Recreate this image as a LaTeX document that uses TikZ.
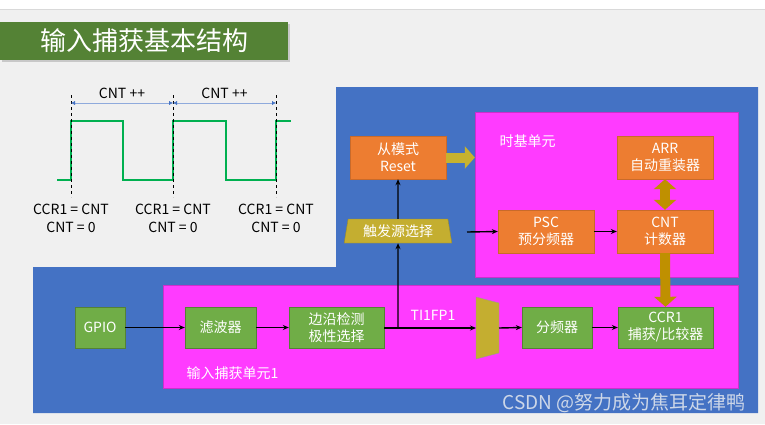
\documentclass[tikz,border=0pt]{standalone}
\usepackage{fontspec}
\setmainfont{Noto Sans CJK SC}
\usetikzlibrary{arrows.meta,shapes.geometric,shadows}

\definecolor{sfondo}{HTML}{F0F0F0}
\definecolor{blu}{HTML}{4472C4}
\definecolor{magenta1}{HTML}{FF3BFF}
\definecolor{arancio}{HTML}{ED7D31}
\definecolor{verde}{HTML}{70AD47}
\definecolor{verdetit}{HTML}{548235}
\definecolor{onda}{HTML}{00B050}
\definecolor{oliva}{HTML}{C4AE30}
\definecolor{oro}{HTML}{BF9000}
\definecolor{azzurro}{HTML}{8FAADC}

\tikzset{
  arbox/.style={draw=arancio!85!black, fill=arancio, text=white, align=center,
    minimum width=96pt, minimum height=43pt, inner sep=0pt, font=\fontsize{14}{17}\selectfont},
  vebox/.style={draw=verde!75!black, fill=verde, text=white, align=center,
    minimum height=41pt, inner sep=0pt, font=\fontsize{14}{17}\selectfont},
  filo/.style={line width=1.4pt, -{Stealth[length=6pt,width=5pt]}},
  grosso/.style={line width=10pt, oro, -{Triangle[length=10pt,width=22pt]}},
  etich/.style={text=white, font=\fontsize{14}{17}\selectfont, anchor=west},
  onde/.style={font=\fontsize{14}{18}\selectfont, align=center}
}

\begin{document}
\begin{tikzpicture}[x=1pt,y=-1pt]
  \useasboundingbox (0,0) rectangle (765,424);
  % Sfondo
  \fill[sfondo] (0,0) rectangle (765,424);
  \fill[white] (0,0) rectangle (765,9);
  \draw[black!15] (0,9) -- (765,9);

  % Titolo
  \node[fill=verdetit, text=white, minimum width=288pt, minimum height=38pt,
    drop shadow={opacity=0.35, shadow xshift=2pt, shadow yshift=-2pt},
    font=\fontsize{26}{30}\selectfont] (titolo) at (144,41) {输入捕获基本结构};

  % Forma d'onda
  \coordinate (t1) at (71,0);
  \coordinate (t2) at (173,0);
  \coordinate (t3) at (276,0);
  \draw[onda, line width=2pt] (57,180) -- (71,180) -- (71,121) -- (123,121) -- (123,180)
    -- (173,180) -- (173,121) -- (226,121) -- (226,180) -- (276,180) -- (276,121) -- (291,121);
  \foreach \t in {t1,t2,t3}
    \draw[dashed, thin] (\t |- 0,95) -- (\t |- 0,197);
  \draw[azzurro, {Latex[length=4pt,width=4pt,blu]}-{Latex[length=4pt,width=4pt,blu]}]
    (t1 |- 0,103) -- (t2 |- 0,103) node[midway, above=1pt, black, font=\fontsize{14}{17}\selectfont] (cnt1) {CNT ++};
  \draw[azzurro, {Latex[length=4pt,width=4pt,blu]}-{Latex[length=4pt,width=4pt,blu]}]
    (t2 |- 0,103) -- (t3 |- 0,103) node[midway, above=1pt, black, font=\fontsize{14}{17}\selectfont] (cnt2) {CNT ++};
  \node[onde] (cap1) at (71,218) {CCR1 = CNT\\CNT = 0};
  \node[onde] (cap2) at (173,218) {CCR1 = CNT\\CNT = 0};
  \node[onde] (cap3) at (276,218) {CCR1 = CNT\\CNT = 0};

  % Zona blu
  \fill[blu] (336,87) -- (758,87) -- (758,413) -- (33,413) -- (33,267) -- (336,267) -- cycle;

  % Unita
  \node[fill=magenta1, draw=magenta1!80!black, minimum width=263pt, minimum height=165pt,
    inner sep=0pt] (base) at (606.5,194.5) {};
  \node[fill=magenta1, draw=magenta1!80!black, minimum width=575pt, minimum height=103pt,
    inner sep=0pt] (cattura) at (450.5,336.5) {};
  \node[etich] (lbase) at (496,141) {时基单元};
  \node[etich] (lcatt) at (183,373) {输入捕获单元1};

  % Blocchi arancio
  \node[arbox] (slave) at (398,157.5) {从模式\\Reset};
  \node[arbox] (arr) at (665,157.5) {ARR\\自动重装器};
  \node[arbox] (psc) at (546,231.5) {PSC\\预分频器};
  \node[arbox] (cnt) at (665,231.5) {CNT\\计数器};
  \node[trapezium, trapezium stretches=true, trapezium left angle=78, trapezium right angle=78,
    minimum width=108pt, minimum height=24pt, inner sep=0pt, fill=oliva, draw=oliva!80!black,
    text=white, font=\fontsize{14}{17}\selectfont] (trig) at (398,231) {触发源选择};

  % Blocchi verdi
  \node[vebox, minimum width=50pt] (gpio) at (100,327.5) {GPIO};
  \node[vebox, minimum width=71pt] (filtro) at (220.5,327.5) {滤波器};
  \node[vebox, minimum width=95pt] (fronte) at (336.5,327.5) {边沿检测\\极性选择};
  \node[vebox, minimum width=70pt] (div) at (557,327.5) {分频器};
  \node[vebox, minimum width=95pt] (ccr) at (665.5,327.5) {CCR1\\捕获/比较器};

  % Mux
  \draw[fill=oliva, draw=black!40] (476,297) -- (499,303) -- (499,353) -- (476,359) -- cycle;
  \coordinate (muxin) at (476,328);
  \coordinate (muxout) at (499,328);
  \coordinate (nodo) at (398,328);
  \coordinate (clk) at (467,232);

  % Collegamenti
  \draw[filo] (gpio) -- (filtro);
  \draw[filo] (filtro) -- (fronte);
  \draw[filo] (fronte.east |- nodo) -- (muxin);
  \node[text=white, font=\fontsize{14}{17}\selectfont] (ti) at (433,315) {TI1FP1};
  \draw[filo] (nodo) -- (trig.south);
  \draw[filo] (trig.north) -- (slave.south);
  \draw[filo] (muxout) -- (div.west);
  \draw[filo] (div) -- (ccr);
  \draw[filo] (clk) -- (psc.west);
  \draw[filo] (psc) -- (cnt);

  % Frecce grosse
  \draw[line width=10pt, oliva!95!yellow, -{Triangle[length=10pt,width=22pt]}]
    (slave.east) -- (slave.east -| base.west);
  \draw[line width=10pt, oro, {Triangle[length=10pt,width=22pt]}-{Triangle[length=10pt,width=22pt]}]
    (arr.south) -- (cnt.north);
  \draw[grosso] (cnt.south) -- (ccr.north);

  % Firma
  \node[anchor=east, text=black!18!blu!25, font=\fontsize{19}{22}\selectfont] (firma) at (749,403)
    {CSDN @努力成为焦耳定律鸭};
\end{tikzpicture}
\end{document}
